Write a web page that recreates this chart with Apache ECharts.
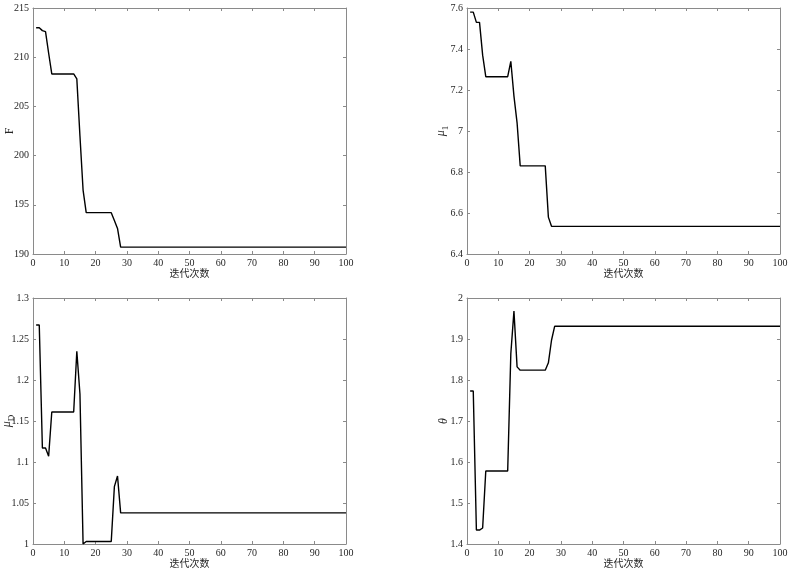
<!DOCTYPE html>
<html>
<head>
<meta charset="utf-8">
<title>迭代曲线</title>
<script src="https://cdn.jsdelivr.net/npm/echarts/dist/echarts.min.js"></script>
<style>
    html, body { margin: 0; padding: 0; background: #fff; }
    #main { width: 800px; height: 576px; }
</style>
</head>
<body>
<div id="main"></div>
<script>
// 迭代次数 1..100
var iterList = [];
for (var k = 1; k <= 100; k++) {
    iterList.push(k);
}
// F 的迭代值
var fValues = [
    213.0, 213.0, 212.7, 212.6, 210.4, 208.3, 208.3, 208.3, 208.3, 208.3,
    208.3, 208.3, 208.3, 207.8, 202.0, 196.5, 194.2, 194.2, 194.2, 194.2,
    194.2, 194.2, 194.2, 194.2, 194.2, 193.4, 192.6, 190.7, 190.7, 190.7,
    190.7, 190.7, 190.7, 190.7, 190.7, 190.7, 190.7, 190.7, 190.7, 190.7,
    190.7, 190.7, 190.7, 190.7, 190.7, 190.7, 190.7, 190.7, 190.7, 190.7,
    190.7, 190.7, 190.7, 190.7, 190.7, 190.7, 190.7, 190.7, 190.7, 190.7,
    190.7, 190.7, 190.7, 190.7, 190.7, 190.7, 190.7, 190.7, 190.7, 190.7,
    190.7, 190.7, 190.7, 190.7, 190.7, 190.7, 190.7, 190.7, 190.7, 190.7,
    190.7, 190.7, 190.7, 190.7, 190.7, 190.7, 190.7, 190.7, 190.7, 190.7,
    190.7, 190.7, 190.7, 190.7, 190.7, 190.7, 190.7, 190.7, 190.7, 190.7
];
// μ1 的迭代值
var mu1Values = [
    7.58, 7.58, 7.53, 7.53, 7.37, 7.265, 7.265, 7.265, 7.265, 7.265,
    7.265, 7.265, 7.265, 7.34, 7.17, 7.04, 6.83, 6.83, 6.83, 6.83,
    6.83, 6.83, 6.83, 6.83, 6.83, 6.58, 6.535, 6.535, 6.535, 6.535,
    6.535, 6.535, 6.535, 6.535, 6.535, 6.535, 6.535, 6.535, 6.535, 6.535,
    6.535, 6.535, 6.535, 6.535, 6.535, 6.535, 6.535, 6.535, 6.535, 6.535,
    6.535, 6.535, 6.535, 6.535, 6.535, 6.535, 6.535, 6.535, 6.535, 6.535,
    6.535, 6.535, 6.535, 6.535, 6.535, 6.535, 6.535, 6.535, 6.535, 6.535,
    6.535, 6.535, 6.535, 6.535, 6.535, 6.535, 6.535, 6.535, 6.535, 6.535,
    6.535, 6.535, 6.535, 6.535, 6.535, 6.535, 6.535, 6.535, 6.535, 6.535,
    6.535, 6.535, 6.535, 6.535, 6.535, 6.535, 6.535, 6.535, 6.535, 6.535
];
// μD 的迭代值
var muDValues = [
    1.267, 1.267, 1.117, 1.117, 1.107, 1.161, 1.161, 1.161, 1.161, 1.161,
    1.161, 1.161, 1.161, 1.235, 1.183, 1.000, 1.003, 1.003, 1.003, 1.003,
    1.003, 1.003, 1.003, 1.003, 1.003, 1.070, 1.083, 1.038, 1.038, 1.038,
    1.038, 1.038, 1.038, 1.038, 1.038, 1.038, 1.038, 1.038, 1.038, 1.038,
    1.038, 1.038, 1.038, 1.038, 1.038, 1.038, 1.038, 1.038, 1.038, 1.038,
    1.038, 1.038, 1.038, 1.038, 1.038, 1.038, 1.038, 1.038, 1.038, 1.038,
    1.038, 1.038, 1.038, 1.038, 1.038, 1.038, 1.038, 1.038, 1.038, 1.038,
    1.038, 1.038, 1.038, 1.038, 1.038, 1.038, 1.038, 1.038, 1.038, 1.038,
    1.038, 1.038, 1.038, 1.038, 1.038, 1.038, 1.038, 1.038, 1.038, 1.038,
    1.038, 1.038, 1.038, 1.038, 1.038, 1.038, 1.038, 1.038, 1.038, 1.038
];
// θ 的迭代值
var thetaValues = [
    1.773, 1.773, 1.434, 1.434, 1.439, 1.578, 1.578, 1.578, 1.578, 1.578,
    1.578, 1.578, 1.578, 1.864, 1.968, 1.832, 1.824, 1.824, 1.824, 1.824,
    1.824, 1.824, 1.824, 1.824, 1.824, 1.842, 1.897, 1.931, 1.931, 1.931,
    1.931, 1.931, 1.931, 1.931, 1.931, 1.931, 1.931, 1.931, 1.931, 1.931,
    1.931, 1.931, 1.931, 1.931, 1.931, 1.931, 1.931, 1.931, 1.931, 1.931,
    1.931, 1.931, 1.931, 1.931, 1.931, 1.931, 1.931, 1.931, 1.931, 1.931,
    1.931, 1.931, 1.931, 1.931, 1.931, 1.931, 1.931, 1.931, 1.931, 1.931,
    1.931, 1.931, 1.931, 1.931, 1.931, 1.931, 1.931, 1.931, 1.931, 1.931,
    1.931, 1.931, 1.931, 1.931, 1.931, 1.931, 1.931, 1.931, 1.931, 1.931,
    1.931, 1.931, 1.931, 1.931, 1.931, 1.931, 1.931, 1.931, 1.931, 1.931
];
// 各子图的纵轴范围 [min, max, interval]
var fRange = [190, 215, 5];
var mu1Range = [6.4, 7.6, 0.2];
var muDRange = [1, 1.3, 0.05];
var thetaRange = [1.4, 2, 0.1];
var xRange = [0, 100, 10];

var axisColor = '#8a8a8a';
var textColor = '#262626';
var serif = '"Liberation Serif", "DejaVu Serif", serif';

// 纵轴名称（rich 文本处理斜体和下标）
var nameRich = {
    up: { fontFamily: serif, fontSize: 12, color: textColor },
    it: { fontFamily: serif, fontSize: 12, fontStyle: 'italic', color: textColor },
    sub: { fontFamily: serif, fontSize: 9, color: textColor, padding: [9, 0, 0, 0] }
};

function tickFmt(v) {
    return String(parseFloat(v.toFixed(3)));
}

// 生成一个子图需要的坐标轴
function makeAxes(gi, range, yName, isY, secondary) {
    var ax = {
        type: 'value',
        gridIndex: gi,
        min: range[0],
        max: range[1],
        interval: range[2],
        axisLine: { show: true, onZero: false, lineStyle: { color: axisColor, width: 1 } },
        axisTick: { show: true, inside: true, length: 3, lineStyle: { color: axisColor } },
        splitLine: { show: false },
        axisLabel: {
            show: !secondary,
            color: textColor,
            fontFamily: serif,
            fontSize: 10,
            margin: 4,
            formatter: tickFmt
        }
    };
    if (isY) {
        ax.position = secondary ? 'right' : 'left';
        if (!secondary) {
            ax.name = yName;
            ax.nameLocation = 'middle';
            ax.nameRotate = 90;
            ax.nameGap = 17;
            ax.nameMoveOverlap = false;
            ax.nameTextStyle = { rich: nameRich };
        }
    } else {
        ax.position = secondary ? 'top' : 'bottom';
        if (!secondary) {
            ax.name = '迭代次数';
            ax.nameLocation = 'middle';
            ax.nameGap = 14;
            ax.nameMoveOverlap = false;
            ax.nameTextStyle = {
                fontFamily: '"Noto Sans CJK SC", sans-serif',
                fontSize: 10,
                color: textColor
            };
        }
    }
    return ax;
}

function makePairs(vals) {
    var arr = [];
    for (var i = 0; i < vals.length; i++) {
        arr.push([iterList[i], vals[i]]);
    }
    return arr;
}

// 四个子图的配置
var panels = [
    { left: 33, top: 8, range: fRange, name: '{up|F}', data: fValues },
    { left: 467, top: 8, range: mu1Range, name: '{it|μ}{sub|1}', data: mu1Values },
    { left: 33, top: 298, range: muDRange, name: '{it|μ}{sub|D}', data: muDValues },
    { left: 467, top: 298, range: thetaRange, name: '{it|θ}', data: thetaValues }
];

var option = {
    animation: false,
    backgroundColor: '#fff',
    grid: [],
    xAxis: [],
    yAxis: [],
    series: []
};

for (var p = 0; p < panels.length; p++) {
    var pn = panels[p];
    option.grid.push({
        left: pn.left, top: pn.top, width: 313, height: 246,
        containLabel: false,
        outerBoundsMode: 'none'   // 不让 v6 自动收缩网格
    });
    option.xAxis.push(makeAxes(p, xRange, '', false, false));
    option.xAxis.push(makeAxes(p, xRange, '', false, true));
    option.yAxis.push(makeAxes(p, pn.range, pn.name, true, false));
    option.yAxis.push(makeAxes(p, pn.range, '', true, true));
    option.series.push({
        type: 'line',
        xAxisIndex: p * 2,
        yAxisIndex: p * 2,
        data: makePairs(pn.data),
        showSymbol: false,
        symbol: 'none',
        lineStyle: { color: '#000', width: 1.4 },
        silent: true
    });
}

var chart = echarts.init(document.getElementById('main'));
chart.setOption(option);
</script>
</body>
</html>
